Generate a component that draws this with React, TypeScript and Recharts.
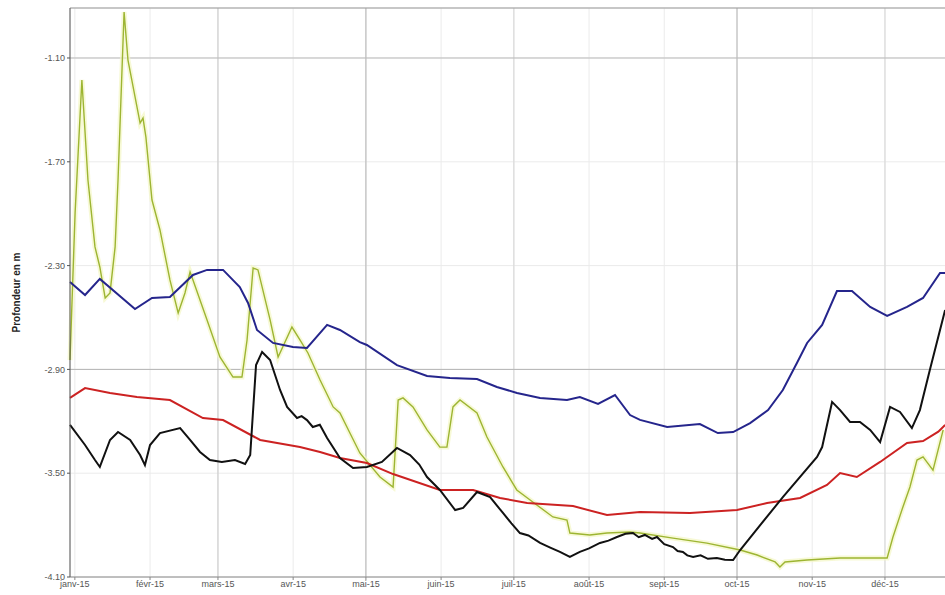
import React from "react";
import { LineChart, Line, XAxis, YAxis, CartesianGrid, ReferenceLine } from "recharts";

// x = days since 1 Jan 2015, v = depth in m
const monthStarts = [0, 31, 59, 90, 120, 151, 181, 212, 243, 273, 304, 334];
const monthLabels = ["janv-15", "févr-15", "mars-15", "avr-15", "mai-15", "juin-15", "juil-15", "août-15", "sept-15", "oct-15", "nov-15", "déc-15"];
const depthTicks = [-4.1, -3.5, -2.9, -2.3, -1.7, -1.1];

const blueSeries = [
  { d: -2.0, v: -2.395 }, { d: 4.2, v: -2.47 }, { d: 10.3, v: -2.377 }, { d: 24.8, v: -2.551 },
  { d: 31.8, v: -2.487 }, { d: 39.2, v: -2.482 }, { d: 48.7, v: -2.354 }, { d: 54.5, v: -2.325 },
  { d: 61.1, v: -2.325 }, { d: 68.0, v: -2.424 }, { d: 71.4, v: -2.516 }, { d: 75.1, v: -2.672 },
  { d: 81.7, v: -2.747 }, { d: 89.9, v: -2.771 }, { d: 95.7, v: -2.776 }, { d: 104.0, v: -2.643 },
  { d: 109.3, v: -2.672 }, { d: 117.5, v: -2.742 }, { d: 120.4, v: -2.759 }, { d: 132.8, v: -2.875 },
  { d: 145.2, v: -2.938 }, { d: 154.6, v: -2.95 }, { d: 165.8, v: -2.956 }, { d: 174.0, v: -3.002 },
  { d: 182.3, v: -3.036 }, { d: 191.8, v: -3.065 }, { d: 202.9, v: -3.077 }, { d: 208.2, v: -3.06 },
  { d: 215.7, v: -3.1 }, { d: 222.7, v: -3.048 }, { d: 228.9, v: -3.164 }, { d: 233.0, v: -3.192 },
  { d: 244.2, v: -3.233 }, { d: 257.7, v: -3.216 }, { d: 265.1, v: -3.268 }, { d: 271.4, v: -3.262 },
  { d: 278.4, v: -3.21 }, { d: 285.8, v: -3.135 }, { d: 291.9, v: -3.019 }, { d: 297.7, v: -2.863 },
  { d: 301.9, v: -2.747 }, { d: 308.1, v: -2.643 }, { d: 314.2, v: -2.447 }, { d: 320.4, v: -2.447 },
  { d: 327.9, v: -2.539 }, { d: 334.9, v: -2.591 }, { d: 343.1, v: -2.539 }, { d: 349.7, v: -2.487 },
  { d: 356.7, v: -2.343 }, { d: 358.8, v: -2.343 },
];

const redSeries = [
  { d: -2.0, v: -3.065 }, { d: 4.2, v: -3.008 }, { d: 14.5, v: -3.036 }, { d: 25.6, v: -3.06 },
  { d: 39.2, v: -3.077 }, { d: 52.8, v: -3.181 }, { d: 61.1, v: -3.193 }, { d: 76.4, v: -3.308 },
  { d: 92.8, v: -3.349 }, { d: 101.1, v: -3.377 }, { d: 109.3, v: -3.412 }, { d: 120.4, v: -3.441 },
  { d: 131.2, v: -3.505 }, { d: 150.5, v: -3.597 }, { d: 164.2, v: -3.597 }, { d: 175.3, v: -3.643 },
  { d: 186.5, v: -3.672 }, { d: 205.4, v: -3.69 }, { d: 219.4, v: -3.742 }, { d: 233.0, v: -3.724 },
  { d: 253.6, v: -3.73 }, { d: 273.0, v: -3.713 }, { d: 285.4, v: -3.672 }, { d: 299.0, v: -3.643 },
  { d: 310.1, v: -3.568 }, { d: 315.5, v: -3.499 }, { d: 322.4, v: -3.522 }, { d: 332.0, v: -3.435 },
  { d: 343.1, v: -3.325 }, { d: 349.7, v: -3.314 }, { d: 356.0, v: -3.26 }, { d: 358.8, v: -3.221 },
];

const blackSeries = [
  { d: -2.0, v: -3.221 }, { d: 4.2, v: -3.337 }, { d: 8.3, v: -3.424 }, { d: 10.3, v: -3.464 },
  { d: 14.5, v: -3.308 }, { d: 17.8, v: -3.262 }, { d: 22.8, v: -3.308 }, { d: 26.9, v: -3.395 },
  { d: 28.9, v: -3.453 }, { d: 31.0, v: -3.337 }, { d: 35.1, v: -3.268 }, { d: 43.4, v: -3.239 },
  { d: 47.5, v: -3.308 }, { d: 51.6, v: -3.377 }, { d: 55.7, v: -3.424 }, { d: 60.6, v: -3.435 },
  { d: 66.0, v: -3.424 }, { d: 70.2, v: -3.447 }, { d: 72.3, v: -3.395 }, { d: 74.7, v: -2.875 },
  { d: 77.2, v: -2.799 }, { d: 80.5, v: -2.846 }, { d: 84.6, v: -3.019 }, { d: 87.5, v: -3.117 },
  { d: 91.6, v: -3.181 }, { d: 93.5, v: -3.17 }, { d: 95.7, v: -3.193 }, { d: 98.1, v: -3.233 },
  { d: 101.0, v: -3.22 }, { d: 104.0, v: -3.297 }, { d: 109.3, v: -3.412 }, { d: 114.7, v: -3.47 },
  { d: 120.4, v: -3.464 }, { d: 126.6, v: -3.435 }, { d: 132.8, v: -3.354 }, { d: 138.2, v: -3.395 },
  { d: 142.0, v: -3.45 }, { d: 145.2, v: -3.522 }, { d: 150.5, v: -3.597 }, { d: 156.8, v: -3.713 },
  { d: 160.1, v: -3.701 }, { d: 165.8, v: -3.609 }, { d: 171.2, v: -3.638 }, { d: 176.5, v: -3.73 },
  { d: 180.0, v: -3.79 }, { d: 183.5, v: -3.846 }, { d: 187.0, v: -3.86 }, { d: 191.8, v: -3.903 },
  { d: 196.0, v: -3.93 }, { d: 200.0, v: -3.955 }, { d: 204.1, v: -3.984 }, { d: 208.2, v: -3.955 },
  { d: 212.0, v: -3.935 }, { d: 216.5, v: -3.903 }, { d: 220.0, v: -3.89 }, { d: 223.5, v: -3.869 },
  { d: 227.0, v: -3.85 }, { d: 230.1, v: -3.846 }, { d: 232.5, v: -3.87 }, { d: 235.0, v: -3.857 },
  { d: 238.0, v: -3.88 }, { d: 240.0, v: -3.869 }, { d: 243.0, v: -3.91 }, { d: 246.6, v: -3.927 },
  { d: 248.5, v: -3.95 }, { d: 250.7, v: -3.955 }, { d: 252.5, v: -3.975 }, { d: 254.9, v: -3.984 },
  { d: 258.0, v: -3.975 }, { d: 261.0, v: -3.995 }, { d: 264.7, v: -3.99 }, { d: 268.0, v: -4.0 },
  { d: 271.4, v: -4.002 }, { d: 274.3, v: -3.944 }, { d: 291.9, v: -3.638 }, { d: 306.0, v: -3.406 },
  { d: 308.1, v: -3.349 }, { d: 312.2, v: -3.088 }, { d: 315.5, v: -3.135 }, { d: 319.6, v: -3.204 },
  { d: 323.7, v: -3.204 }, { d: 327.9, v: -3.25 }, { d: 332.0, v: -3.32 }, { d: 336.1, v: -3.117 },
  { d: 340.2, v: -3.146 }, { d: 345.1, v: -3.239 }, { d: 348.4, v: -3.135 }, { d: 352.5, v: -2.903 },
  { d: 358.8, v: -2.557 },
];

const greenSeries = [
  { d: -2.0, v: -2.846 }, { d: 0.1, v: -1.996 }, { d: 2.9, v: -1.227 }, { d: 5.4, v: -1.805 },
  { d: 8.3, v: -2.192 }, { d: 10.3, v: -2.308 }, { d: 12.5, v: -2.487 }, { d: 14.5, v: -2.458 },
  { d: 16.6, v: -2.192 }, { d: 17.8, v: -1.805 }, { d: 20.3, v: -0.834 }, { d: 21.9, v: -1.112 },
  { d: 26.9, v: -1.476 }, { d: 28.1, v: -1.447 }, { d: 29.3, v: -1.557 }, { d: 31.8, v: -1.921 },
  { d: 35.1, v: -2.094 }, { d: 39.2, v: -2.383 }, { d: 42.6, v: -2.574 }, { d: 45.4, v: -2.458 },
  { d: 47.5, v: -2.337 }, { d: 48.7, v: -2.383 }, { d: 54.5, v: -2.614 }, { d: 59.8, v: -2.828 },
  { d: 65.2, v: -2.944 }, { d: 68.9, v: -2.944 }, { d: 71.0, v: -2.73 }, { d: 73.5, v: -2.314 },
  { d: 75.5, v: -2.325 }, { d: 80.5, v: -2.614 }, { d: 83.8, v: -2.828 }, { d: 89.5, v: -2.655 },
  { d: 92.8, v: -2.73 }, { d: 96.1, v: -2.805 }, { d: 101.1, v: -2.961 }, { d: 106.5, v: -3.117 },
  { d: 109.3, v: -3.152 }, { d: 113.4, v: -3.268 }, { d: 117.5, v: -3.383 }, { d: 125.8, v: -3.522 },
  { d: 131.2, v: -3.58 }, { d: 133.3, v: -3.077 }, { d: 135.3, v: -3.065 }, { d: 139.4, v: -3.117 },
  { d: 145.2, v: -3.25 }, { d: 150.5, v: -3.349 }, { d: 153.4, v: -3.349 }, { d: 155.9, v: -3.117 },
  { d: 158.8, v: -3.077 }, { d: 165.8, v: -3.152 }, { d: 169.9, v: -3.291 }, { d: 176.5, v: -3.464 },
  { d: 182.2, v: -3.597 }, { d: 187.7, v: -3.655 }, { d: 197.1, v: -3.753 }, { d: 202.9, v: -3.771 },
  { d: 204.1, v: -3.846 }, { d: 212.3, v: -3.857 }, { d: 219.4, v: -3.846 }, { d: 228.9, v: -3.84 },
  { d: 233.0, v: -3.846 }, { d: 246.6, v: -3.875 }, { d: 260.6, v: -3.904 }, { d: 274.3, v: -3.944 },
  { d: 281.3, v: -3.973 }, { d: 288.7, v: -4.013 }, { d: 290.7, v: -4.042 }, { d: 292.8, v: -4.013 },
  { d: 301.9, v: -4.002 }, { d: 315.5, v: -3.99 }, { d: 329.1, v: -3.99 }, { d: 334.9, v: -3.99 },
  { d: 337.3, v: -3.869 }, { d: 341.4, v: -3.695 }, { d: 344.3, v: -3.58 }, { d: 347.2, v: -3.424 },
  { d: 349.7, v: -3.406 }, { d: 353.8, v: -3.482 }, { d: 358.0, v: -3.25 },
];

const fmtMonth = (d: number) => {
  const i = monthStarts.indexOf(d);
  return i >= 0 ? monthLabels[i] : "";
};

export default function App() {
  const tickStyle = { fontSize: 9, fill: "#555", fontFamily: "Liberation Sans, Arial, sans-serif" };
  return (
    <div style={{ position: "absolute", left: 0, top: 0, width: 945, height: 595, overflow: "hidden", background: "#fff" }}>
      <LineChart width={960} height={595} margin={{ top: 8, right: 4.7, bottom: 0, left: 0 }}>
        <CartesianGrid stroke="#ebebeb" strokeWidth={1} />
        <XAxis
          dataKey="d"
          type="number"
          domain={[-2, 363]}
          ticks={monthStarts}
          tickFormatter={fmtMonth}
          interval={0}
          height={18}
          tick={tickStyle}
          tickSize={3}
          tickMargin={1}
          stroke="#888"
        />
        <YAxis
          type="number"
          domain={[-4.1, -0.811]}
          ticks={depthTicks}
          tickFormatter={(v: number) => v.toFixed(2)}
          width={70}
          tick={tickStyle}
          tickSize={3}
          stroke="#555"
          allowDataOverflow
          label={{
            value: "Profondeur en m",
            angle: -90,
            position: "insideLeft",
            offset: 16,
            style: { fontSize: 10, fontWeight: "bold", fill: "#222", fontFamily: "Liberation Sans, Arial, sans-serif", textAnchor: "middle" },
          }}
        />
        <ReferenceLine x={59} stroke="#c8c8c8" />
        <ReferenceLine x={120} stroke="#b4b4b4" />
        <ReferenceLine x={181} stroke="#d6d6d6" />
        <ReferenceLine x={273} stroke="#b4b4b4" />
        <ReferenceLine x={334} stroke="#d6d6d6" />
        <ReferenceLine y={-1.1} stroke="#bcbcbc" />
        <ReferenceLine y={-2.9} stroke="#b4b4b4" />
        <ReferenceLine y={-0.811} stroke="#999" />
        <Line data={greenSeries} dataKey="v" type="linear" stroke="#f3f7c4" strokeWidth={5} strokeOpacity={0.7} dot={false} isAnimationActive={false} />
        <Line data={greenSeries} dataKey="v" type="linear" stroke="#9db532" strokeWidth={1.4} dot={false} isAnimationActive={false} />
        <Line data={redSeries} dataKey="v" type="linear" stroke="#cc2222" strokeWidth={2} dot={false} isAnimationActive={false} />
        <Line data={blueSeries} dataKey="v" type="linear" stroke="#25258c" strokeWidth={2} dot={false} isAnimationActive={false} />
        <Line data={blackSeries} dataKey="v" type="linear" stroke="#111" strokeWidth={2} dot={false} isAnimationActive={false} />
      </LineChart>
    </div>
  );
}
